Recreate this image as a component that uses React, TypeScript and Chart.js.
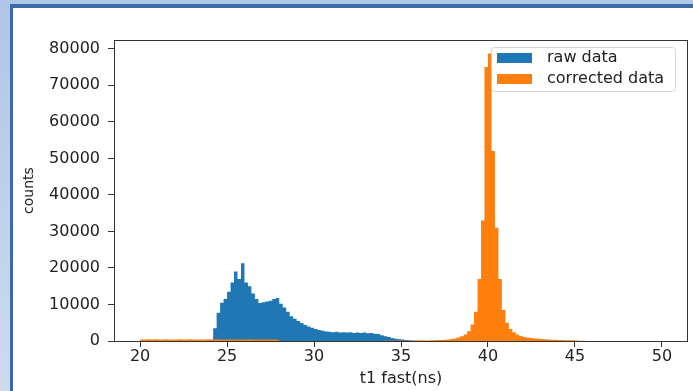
import { useEffect, useRef } from 'react';
import { Chart, registerables } from 'chart.js';

Chart.register(...registerables);

// Histogram bins: left edge of first bin and bin width (ns)
const BIN_START = 20;
const BIN_WIDTH = 0.2;

const SERIES_LABELS = ['raw data', 'corrected data'];

// counts per bin, bins from 20.0 ns in steps of 0.2 ns (150 bins)
const RAW_COUNTS = [
  0, 0, 0, 0, 0, 0, 0, 0, 0, 0,
  0, 0, 0, 0, 0, 0, 0, 0, 0, 0,
  0, 3500, 7700, 10500, 11500, 13500, 16000, 19000, 17000, 21300,
  16000, 15000, 13000, 11500, 10400, 10600, 10800, 11000, 11500, 11800,
  10200, 9200, 8000, 6800, 6100, 5500, 4900, 4400, 4000, 3600,
  3300, 3000, 2800, 2600, 2500, 2400, 2500, 2300, 2400, 2300,
  2400, 2200, 2300, 2200, 2300, 2100, 2200, 2000, 1900, 1600,
  1300, 1100, 850, 650, 500, 380, 280, 200, 140, 100,
  60, 40, 20, 0, 0, 0, 0, 0, 0, 0,
  0, 0, 0, 0, 0, 0, 0, 0, 0, 0,
  0, 0, 0, 0, 0, 0, 0, 0, 0, 0,
  0, 0, 0, 0, 0, 0, 0, 0, 0, 0,
  0, 0, 0, 0, 0, 0, 0, 0, 0, 0,
  0, 0, 0, 0, 0, 0, 0, 0, 0, 0,
  0, 0, 0, 0, 0, 0, 0, 0, 0, 0,
];

const CORRECTED_COUNTS = [
  420, 380, 450, 400, 470, 430, 390, 460, 410, 440,
  400, 450, 420, 380, 460, 430, 400, 440, 410, 450,
  430, 400, 460, 420, 390, 450, 410, 440, 400, 430,
  420, 450, 390, 430, 410, 440, 400, 420, 380, 350,
  20, 20, 20, 20, 20, 20, 20, 20, 20, 20,
  20, 20, 20, 20, 20, 20, 20, 20, 20, 20,
  20, 20, 20, 20, 20, 20, 20, 20, 20, 20,
  40, 40, 50, 50, 60, 60, 70, 80, 90, 110,
  130, 150, 170, 200, 230, 260, 300, 350, 420, 520,
  700, 950, 1300, 1800, 2700, 4500, 8000, 17000, 33000, 75000,
  78700, 52000, 31000, 17000, 8500, 5000, 3300, 2400, 1800, 1400,
  1100, 950, 800, 700, 600, 520, 460, 400, 360, 320,
  280, 250, 220, 200, 180, 150, 100, 40, 0, 0,
  0, 0, 0, 0, 0, 0, 0, 0, 0, 0,
  0, 0, 0, 0, 0, 0, 0, 0, 0, 0,
];

const X_TICKS = [20, 25, 30, 35, 40, 45, 50];
const Y_TICKS = [0, 10000, 20000, 30000, 40000, 50000, 60000, 70000, 80000];
const X_MIN = 18.5;
const X_MAX = 51.5;
const Y_MAX = 82400;

const BLUE = '#1f77b4';
const ORANGE = '#ff7f0e';
const FONT = 'DejaVu Sans';

const framePlugin = {
  id: 'mplFrame',
  afterDatasetsDraw(chart: any) {
    const { ctx, chartArea } = chart;
    ctx.save();
    ctx.strokeStyle = '#333';
    ctx.lineWidth = 1;
    ctx.strokeRect(
      Math.round(chartArea.left) + 0.5,
      Math.round(chartArea.top) + 0.5,
      Math.round(chartArea.right - chartArea.left) - 1,
      Math.round(chartArea.bottom - chartArea.top)
    );
    ctx.restore();
  },
};

const legendPlugin = {
  id: 'mplLegend',
  afterDraw(chart: any) {
    const { ctx, chartArea } = chart;
    const bx = chartArea.right - 196.5;
    const by = chartArea.top + 7.5;
    const bw = 184;
    const bh = 44;
    ctx.save();
    ctx.beginPath();
    ctx.roundRect(bx, by, bw, bh, 3);
    ctx.fillStyle = 'rgba(255,255,255,0.85)';
    ctx.fill();
    ctx.strokeStyle = '#d4d4d4';
    ctx.lineWidth = 1;
    ctx.stroke();
    const rows = [by + 10.5, by + 31.5];
    chart.data.datasets.forEach((ds: any, i: number) => {
      const cy = rows[i];
      ctx.fillStyle = ds.backgroundColor;
      ctx.fillRect(bx + 5.5, cy - 5, 35, 10);
      ctx.fillStyle = '#222';
      ctx.font = `16px "${FONT}"`;
      ctx.textBaseline = 'middle';
      ctx.textAlign = 'left';
      ctx.fillText(ds.label, bx + 55.5, cy);
    });
    ctx.restore();
  },
};

export default function App() {
  const ref = useRef<HTMLCanvasElement>(null);

  useEffect(() => {
    document.body.style.margin = '0';
    const canvas = ref.current;
    if (!canvas) return;

    const toPoints = (counts: number[]) => {
      const pts = counts.map((y, i) => ({ x: Math.round((BIN_START + i * BIN_WIDTH) * 100) / 100, y }));
      pts.push({ x: Math.round((BIN_START + counts.length * BIN_WIDTH) * 100) / 100, y: 0 });
      return pts;
    };

    const common = {
      borderColor: 'rgba(0,0,0,0)',
      borderWidth: 0,
      fill: 'origin',
      stepped: 'before',
      pointRadius: 0,
      pointHoverRadius: 0,
      tension: 0,
    };

    const chart = new Chart(canvas, {
      type: 'line',
      data: {
        datasets: [
          { ...common, label: SERIES_LABELS[0], data: toPoints(RAW_COUNTS), backgroundColor: BLUE, order: 2 } as any,
          { ...common, label: SERIES_LABELS[1], data: toPoints(CORRECTED_COUNTS), backgroundColor: ORANGE, order: 1 } as any,
        ],
      },
      options: {
        responsive: false,
        animation: false,
        events: [],
        layout: { padding: { left: 0, right: 5, top: 40, bottom: 0 } },
        plugins: {
          legend: { display: false },
          tooltip: { enabled: false },
        },
        scales: {
          x: {
            type: 'linear',
            min: X_MIN,
            max: X_MAX,
            afterBuildTicks: (s: any) => {
              s.ticks = X_TICKS.map((v) => ({ value: v }));
            },
            afterFit: (s: any) => {
              s.height = 50;
            },
            border: { display: false },
            grid: {
              display: true,
              drawOnChartArea: false,
              drawTicks: true,
              tickLength: 6,
              tickColor: '#333',
              tickWidth: 1,
            },
            ticks: {
              padding: 0,
              maxRotation: 0,
              autoSkip: false,
              color: '#222',
              font: { family: FONT, size: 16 },
              callback: (v: any) => String(v),
            },
            title: {
              display: true,
              text: 't1 fast(ns)',
              color: '#222',
              font: { family: FONT, size: 16 },
              padding: { top: 0, bottom: 3 },
            },
          },
          y: {
            type: 'linear',
            min: 0,
            max: Y_MAX,
            afterBuildTicks: (s: any) => {
              s.ticks = Y_TICKS.map((v) => ({ value: v }));
            },
            afterFit: (s: any) => {
              s.width = 114;
            },
            border: { display: false },
            grid: {
              display: true,
              drawOnChartArea: false,
              drawTicks: true,
              tickLength: 6,
              tickColor: '#333',
              tickWidth: 1,
            },
            ticks: {
              padding: 8,
              autoSkip: false,
              color: '#222',
              font: { family: FONT, size: 16 },
              callback: (v: any) => String(v),
            },
            title: {
              display: true,
              text: 'counts',
              color: '#222',
              font: { family: FONT, size: 14 },
              padding: { top: 21, bottom: 0 },
            },
          },
        },
      },
      plugins: [framePlugin, legendPlugin],
    });

    return () => chart.destroy();
  }, []);

  return (
    <div
      style={{
        position: 'relative',
        width: 693,
        height: 391,
        overflow: 'hidden',
        background: 'linear-gradient(#afc6e6, #cddbef)',
      }}
    >
      <div
        style={{
          position: 'absolute',
          left: 10,
          top: 4,
          right: -20,
          bottom: -20,
          borderLeft: '3px solid #3b69ac',
          borderTop: '4px solid #3b69ac',
          background: '#ffffff',
        }}
      />
      <canvas
        ref={ref}
        width={693}
        height={391}
        style={{ position: 'absolute', left: 0, top: 0, display: 'block' }}
      />
    </div>
  );
}
